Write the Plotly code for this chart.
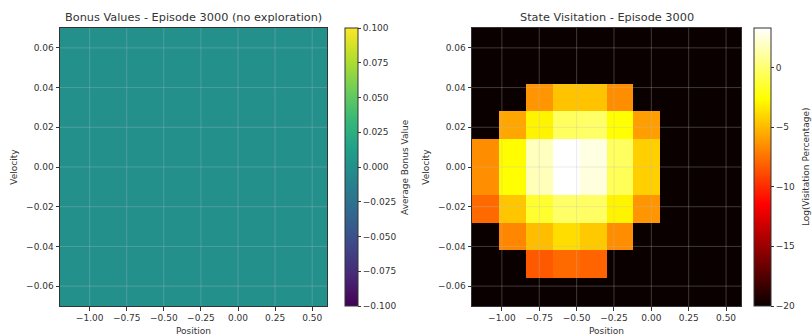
import numpy as np
import plotly.graph_objects as go

# ---- data ----
pos_edges = [-1.2, -1.02, -0.84, -0.66, -0.48, -0.30, -0.12, 0.06, 0.24, 0.42, 0.60]
vel_edges = [-0.07, -0.056, -0.042, -0.028, -0.014, 0.0, 0.014, 0.028, 0.042, 0.056, 0.07]

bonus_values = [[0.0] * 10 for _ in range(10)]

B = -20.0
# rows listed from bottom (velocity -0.07) to top (velocity 0.07)
log_visits = [
    [B, B, B, B, B, B, B, B, B, B],
    [B, B, -8.4, -7.8, -8.0, B, B, B, B, B],
    [B, -6.8, -4.9, -3.8, -4.5, -6.6, B, B, B, B],
    [-7.8, -4.6, -1.5, -0.2, -0.3, -3.0, -6.3, B, B, B],
    [-6.5, -2.6, 1.7, 3.3, 2.5, -0.6, -4.3, B, B, B],
    [-6.6, -2.7, 1.8, 3.3, 2.6, -0.4, -4.3, B, B, B],
    [B, -5.7, -3.0, -0.4, -0.2, -2.6, -6.0, B, B, B],
    [B, B, -6.3, -4.7, -4.7, -6.6, B, B, B, B],
    [B, B, B, B, B, B, B, B, B, B],
    [B, B, B, B, B, B, B, B, B, B],
]

x_ticks = [-1.0, -0.75, -0.5, -0.25, 0.0, 0.25, 0.5]
y_ticks = [-0.06, -0.04, -0.02, 0.0, 0.02, 0.04, 0.06]
bonus_cticks = [-0.1, -0.075, -0.05, -0.025, 0.0, 0.025, 0.05, 0.075, 0.1]
visit_cticks = [0, -5, -10, -15, -20]

pos_centers = [(a + b) / 2 for a, b in zip(pos_edges[:-1], pos_edges[1:])]
vel_centers = [(a + b) / 2 for a, b in zip(vel_edges[:-1], vel_edges[1:])]

hot = [[0.0, "rgb(10,0,0)"], [0.365, "rgb(255,0,0)"],
       [0.746, "rgb(255,255,0)"], [1.0, "rgb(255,255,255)"]]

# the page body margin is removed (post_script) so the figure fills the window
W, H = 812, 336


def fx(px):
    return px / W


def fy(py):
    return 1 - py / H


L1, R1 = 60, 327
L2, R2 = 472, 741
TOP, BOT = 28, 306
yd = [fy(BOT), fy(TOP)]
ymid = (yd[0] + yd[1]) / 2

FONT = "DejaVu Sans"
TXT = "#333333"
TICKF = dict(size=9, color=TXT, family=FONT)

fig = go.Figure()
fig.add_trace(go.Heatmap(
    z=bonus_values, x=pos_centers, y=vel_centers,
    colorscale="Viridis", zmin=-0.1, zmax=0.1,
    xaxis="x", yaxis="y",
    colorbar=dict(
        x=fx(345), xanchor="left", y=ymid, yanchor="middle",
        len=BOT - TOP, lenmode="pixels", thickness=13, thicknessmode="pixels",
        xpad=0, ypad=0,
        outlinewidth=1, outlinecolor="#333", ticks="outside", ticklen=3,
        tickcolor="#333", tickvals=bonus_cticks, tickformat=".3f",
        tickfont=TICKF,
    ),
))
fig.add_trace(go.Heatmap(
    z=log_visits, x=pos_centers, y=vel_centers,
    colorscale=hot, zmin=-20, zmax=max(max(r) for r in log_visits),
    xaxis="x2", yaxis="y2",
    colorbar=dict(
        x=fx(754), xanchor="left", y=ymid, yanchor="middle",
        len=BOT - TOP, lenmode="pixels", thickness=17, thicknessmode="pixels",
        xpad=0, ypad=0,
        outlinewidth=1, outlinecolor="#333", ticks="outside", ticklen=3,
        tickcolor="#333", tickvals=visit_cticks,
        tickfont=TICKF,
    ),
))

ax_common = dict(showline=True, mirror=True, linecolor="#333", linewidth=1,
                 ticks="outside", ticklen=3.5, tickcolor="#333", showgrid=False,
                 zeroline=False, tickformat=".2f", automargin=False,
                 tickfont=TICKF)

fig.update_layout(
    width=W, height=H, margin=dict(l=0, r=0, t=0, b=0),
    paper_bgcolor="white", plot_bgcolor="white",
    font=dict(family=FONT, color=TXT),
    xaxis=dict(domain=[fx(L1), fx(R1)], range=[-1.2, 0.6], tickvals=x_ticks,
               title=dict(text="Position", font=dict(size=9), standoff=5), anchor="y", **ax_common),
    yaxis=dict(domain=yd, range=[-0.07, 0.07], tickvals=y_ticks,
               title=dict(text="Velocity", font=dict(size=9), standoff=6), anchor="x", **ax_common),
    xaxis2=dict(domain=[fx(L2), fx(R2)], range=[-1.2, 0.6], tickvals=x_ticks,
                title=dict(text="Position", font=dict(size=9), standoff=5), anchor="y2", **ax_common),
    yaxis2=dict(domain=yd, range=[-0.07, 0.07], tickvals=y_ticks,
                title=dict(text="Velocity", font=dict(size=9), standoff=6), anchor="x2", **ax_common),
)

# grid lines drawn above the heatmaps (matplotlib grid, alpha 0.3)
shapes = []
for xr, yr in (("x", "y"), ("x2", "y2")):
    for t in x_ticks:
        shapes.append(dict(type="line", xref=xr, yref=yr + " domain", x0=t, x1=t, y0=0, y1=1,
                           line=dict(color="rgba(190,190,190,0.3)", width=1), layer="above"))
    for t in y_ticks:
        shapes.append(dict(type="line", xref=xr + " domain", yref=yr, x0=0, x1=1, y0=t, y1=t,
                           line=dict(color="rgba(190,190,190,0.3)", width=1), layer="above"))
fig.update_layout(shapes=shapes)

fig.add_annotation(text="Bonus Values - Episode 3000 (no exploration)", xref="paper", yref="paper",
                   x=fx((L1 + R1) / 2), y=fy(17), xanchor="center", yanchor="middle",
                   showarrow=False, font=dict(size=11.3, color=TXT, family=FONT))
fig.add_annotation(text="State Visitation - Episode 3000", xref="paper", yref="paper",
                   x=fx((L2 + R2) / 2), y=fy(17), xanchor="center", yanchor="middle",
                   showarrow=False, font=dict(size=11.3, color=TXT, family=FONT))
# colorbar labels
fig.add_annotation(text="Average Bonus Value", xref="paper", yref="paper",
                   x=fx(405), y=ymid, xanchor="center", yanchor="middle", textangle=-90,
                   showarrow=False, font=dict(size=9, color=TXT, family=FONT))
fig.add_annotation(text="Log(Visitation Percentage)", xref="paper", yref="paper",
                   x=fx(806), y=ymid, xanchor="center", yanchor="middle", textangle=-90,
                   showarrow=False, font=dict(size=9, color=TXT, family=FONT))

fig.write_html(
    "out.html",
    config={"displayModeBar": False},
    post_script="document.body.style.margin='0';document.body.style.overflow='hidden';",
)
